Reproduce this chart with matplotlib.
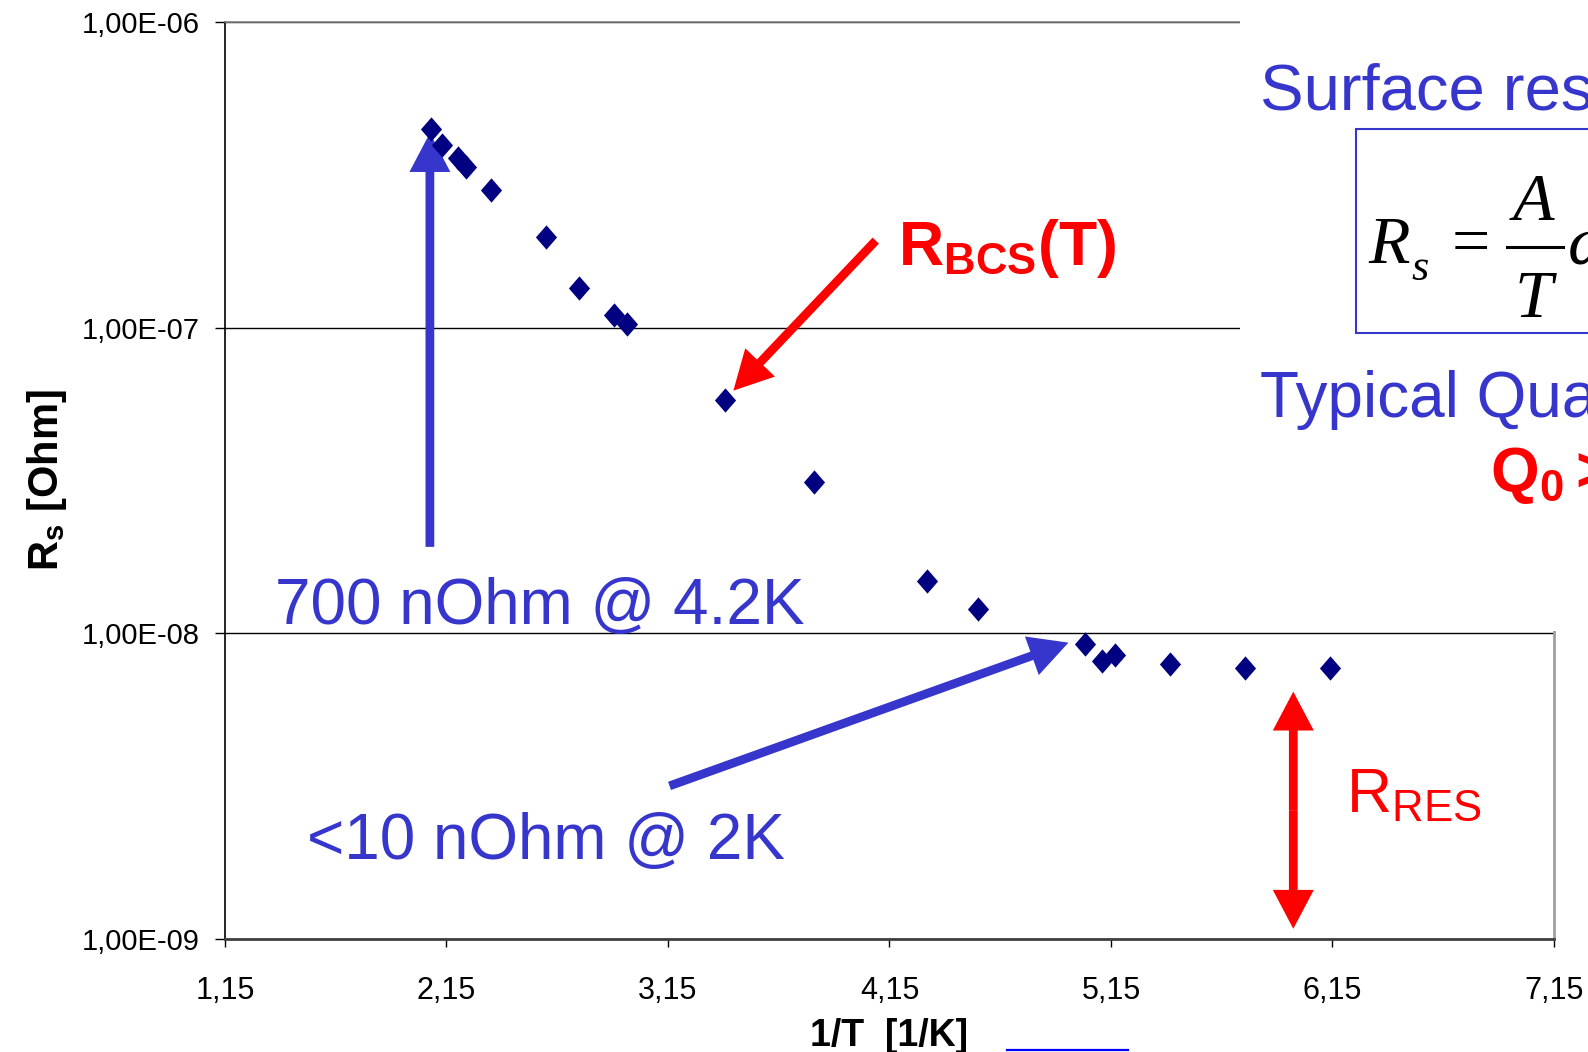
import matplotlib
matplotlib.use("Agg")
import matplotlib.pyplot as plt
from matplotlib.patches import Rectangle
from matplotlib.lines import Line2D
from matplotlib.ticker import FixedLocator, FixedFormatter, NullLocator

# measured surface resistance vs inverse temperature
inv_T = [2.079, 2.129, 2.204, 2.237, 2.350, 2.598, 2.749, 2.904, 2.967,
         3.408, 3.811, 4.318, 4.551, 5.033, 5.108, 5.169, 5.417, 5.756, 6.140]
Rs = [4.47e-7, 3.97e-7, 3.59e-7, 3.37e-7, 2.83e-7, 1.98e-7, 1.35e-7, 1.10e-7, 1.03e-7,
      5.81e-8, 3.14e-8, 1.49e-8, 1.20e-8, 9.25e-9, 8.15e-9, 8.51e-9, 7.94e-9, 7.71e-9, 7.71e-9]

x_ticks = [1.15, 2.15, 3.15, 4.15, 5.15, 6.15, 7.15]
x_labels = ["1,15", "2,15", "3,15", "4,15", "5,15", "6,15", "7,15"]
y_ticks = [1e-9, 1e-8, 1e-7, 1e-6]
y_labels = ["1,00E-09", "1,00E-08", "1,00E-07", "1,00E-06"]

plt.rcParams['font.family'] = ['Liberation Sans', 'DejaVu Sans']
plt.rcParams['mathtext.fontset'] = 'custom'
plt.rcParams['mathtext.rm'] = 'Liberation Sans'
plt.rcParams['mathtext.it'] = 'Liberation Sans:italic'
plt.rcParams['mathtext.bf'] = 'Liberation Sans:bold'

BLUE = '#3636CC'
RED = '#FF0000'
NAVY = '#000080'

W, H = 1588, 1052
def fx(px):
    return px / W
def fy(py):
    return 1 - py / H

fig = plt.figure(figsize=(15.88, 10.52), dpi=100)
ax = fig.add_axes([fx(225), fy(939), fx(1554) - fx(225), fy(22.3) - fy(939)])

diamond = [(0, 1), (0.87, 0), (0, -1), (-0.87, 0), (0, 1)]
ax.plot(inv_T, Rs, linestyle='none', marker=diamond, markersize=17.5,
        color=NAVY, mew=0, zorder=5)

ax.set_yscale('log')
ax.set_xlim(1.15, 7.15)
ax.set_ylim(1e-9, 1e-6)
ax.xaxis.set_major_locator(FixedLocator(x_ticks))
ax.xaxis.set_major_formatter(FixedFormatter(x_labels))
ax.yaxis.set_major_locator(FixedLocator(y_ticks))
ax.yaxis.set_major_formatter(FixedFormatter(y_labels))
ax.yaxis.set_minor_locator(NullLocator())
ax.tick_params(axis='x', direction='out', length=5.8, width=1, pad=20.5, labelsize=22)
ax.tick_params(axis='y', direction='out', length=7.2, width=1, pad=11, labelsize=21)
ax.yaxis.grid(True, color='black', lw=1)
ax.set_axisbelow(True)

ax.spines['left'].set_color('black')
ax.spines['left'].set_linewidth(1.2)
ax.spines['bottom'].set_color('#404040')
ax.spines['bottom'].set_linewidth(2)
ax.spines['top'].set_color('#808080')
ax.spines['top'].set_linewidth(1.2)
ax.spines['right'].set_color('#A0A0A0')
ax.spines['right'].set_linewidth(2)

ax.set_xlabel('1/T  [1/K]', fontsize=27, fontweight='bold')
ax.xaxis.label.set_va('baseline')
ax.xaxis.set_label_coords(0.5, -0.1167)
ax.set_ylabel(r'$\mathbf{R_s}$ [Ohm]', fontsize=30, fontweight='bold')
ax.yaxis.label.set_va('center')
ax.yaxis.set_label_coords(-0.134, 0.5)


def arrow(tail, tip, color):
    ax.annotate('', xy=tip, xytext=tail,
                arrowprops=dict(arrowstyle='simple,head_length=28,head_width=29.5,tail_width=6.3',
                                mutation_scale=1, color=color, lw=0,
                                shrinkA=0, shrinkB=0), zorder=3)

arrow((2.075, 1.92e-8), (2.075, 4.34e-7), BLUE)
arrow((4.088, 1.93e-7), (3.445, 6.23e-8), RED)
arrow((3.157, 3.17e-9), (4.958, 9.33e-9), BLUE)
arrow((5.973, 2.64e-9), (5.973, 6.45e-9), RED)
arrow((5.973, 2.64e-9), (5.973, 1.08e-9), RED)

fig.text(fx(275), fy(624), '700 nOhm @ 4.2K', color=BLUE, fontsize=46, va='baseline')
fig.text(fx(307), fy(858.6), '<10 nOhm @ 2K', color=BLUE, fontsize=46, va='baseline')
fig.text(fx(898), fy(265), r'$\mathbf{R_{BCS}(T)}$', color=RED, fontsize=45, va='baseline')
fig.text(fx(1346), fy(812), r'R$_{\mathrm{RES}}$', color=RED, fontsize=45, va='baseline')

# white panel over the upper right of the chart
fig.add_artist(Rectangle((fx(1240), fy(631)), 1, 1, transform=fig.transFigure,
                         facecolor='white', edgecolor='none', zorder=2))
fig.add_artist(Rectangle((fx(1355.7), fy(333.3)), 0.3, (333.3 - 129.3) / H,
                         transform=fig.transFigure, facecolor='white',
                         edgecolor=BLUE, lw=1.5, zorder=2.5))
fig.text(fx(1260), fy(110), 'Surface resistance', color=BLUE, fontsize=47, va='baseline', zorder=4)

# formula  Rs = A/T w^2 exp(-D/kT), set piece by piece in a Times-like face
serif = dict(family='Liberation Serif', color='black', va='baseline', zorder=4)
fig.text(fx(1368), fy(263), 'R', fontsize=49, style='italic', **serif)
fig.text(fx(1411), fy(280), 's', fontsize=32, style='italic', **serif)
fig.text(fx(1452), fy(263), '=', fontsize=49, **serif)
fig.text(fx(1513), fy(220), 'A', fontsize=49, style='italic', **serif)
fig.add_artist(Line2D([fx(1507), fx(1563)], [fy(246.7), fy(246.7)], color='black', lw=2.2, zorder=4))
fig.text(fx(1515), fy(316.7), 'T', fontsize=49, style='italic', **serif)
fig.text(fx(1568), fy(263), '\u03c9\u00b2', fontsize=49, style='italic', **serif)

fig.text(fx(1260), fy(416.7), 'Typical Quality factors', color=BLUE, fontsize=46,
         va='baseline', zorder=4)
fig.text(fx(1490), fy(491.7), r'$\mathbf{Q_0 > 10^{10}}$', color=RED, fontsize=45,
         va='baseline', zorder=4)

fig.add_artist(Line2D([fx(1007), fx(1128)], [fy(1050), fy(1050)], color='#0000FF', lw=1.6))

fig.savefig('out.png', dpi=100)
